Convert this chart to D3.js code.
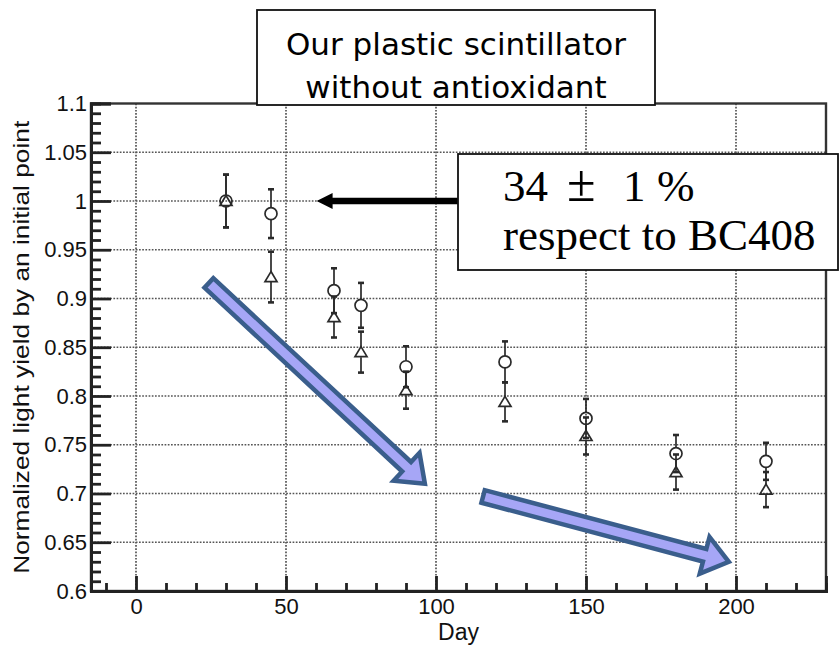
<!DOCTYPE html>
<html>
<head>
<meta charset="utf-8">
<script src="https://cdn.jsdelivr.net/npm/d3@7"></script>
<style>
  body { margin: 0; background: #fff; }
  svg { display: block; }
</style>
</head>
<body>
<div id="main"></div>
<script>
/* size */
const width = 840, height = 651;
const plotLeft = 91, plotRight = 826, plotTop = 103.5, plotBottom = 591;

/* data */
const days = [30, 45, 66, 75, 90, 123, 150, 180, 210];
const circleVals = [1.0, 0.987, 0.908, 0.893, 0.830, 0.835, 0.777, 0.741, 0.733];
const circleErrs = [0.027, 0.025, 0.023, 0.023, 0.021, 0.021, 0.020, 0.019, 0.019];
const triVals = [1.0, 0.922, 0.881, 0.845, 0.806, 0.794, 0.759, 0.722, 0.704];
const triErrs = [0.027, 0.026, 0.021, 0.021, 0.019, 0.020, 0.019, 0.018, 0.018];

const xTicks = [0, 50, 100, 150, 200];
const xMinor = [-10, 10, 20, 30, 40, 60, 70, 80, 90, 110, 120, 130, 140, 160, 170, 180, 190, 210, 220];
const yTicks = [0.6, 0.65, 0.7, 0.75, 0.8, 0.85, 0.9, 0.95, 1, 1.05, 1.1];
const yTickLabels = ["0.6", "0.65", "0.7", "0.75", "0.8", "0.85", "0.9", "0.95", "1", "1.05", "1.1"];
const yMinor = d3.range(60, 111).filter(v => v % 5 !== 0).map(v => v / 100);

/* annotation arrows, in data units [day, yield] */
const trendArrows = [
  {from: [24.3, 0.916], to: [96.3, 0.710]},
  {from: [115.7, 0.697], to: [197.6, 0.630]}
];
const pointerArrow = {from: [107.3, 1.0], to: [60.2, 1.0]};

const x = d3.scaleLinear().domain([-15, 230]).range([plotLeft, plotRight]);
const y = d3.scaleLinear().domain([0.6, 1.1]).range([plotBottom, plotTop]);

const svg = d3.select("#main").append("svg").attr("width", width).attr("height", height);

/* grid */
const grid = svg.append("g").attr("stroke", "#555").attr("stroke-width", 1.7).attr("stroke-dasharray", "1.7,1.5");
grid.selectAll("line.gx").data(xTicks).join("line")
  .attr("class", "gx")
  .attr("x1", d => x(d)).attr("x2", d => x(d)).attr("y1", plotTop).attr("y2", plotBottom);
grid.selectAll("line.gy").data(yTicks.slice(1, -1)).join("line")
  .attr("class", "gy")
  .attr("x1", plotLeft).attr("x2", plotRight).attr("y1", d => y(d)).attr("y2", d => y(d));

/* frame */
svg.append("rect").attr("x", plotLeft).attr("y", plotTop)
  .attr("width", plotRight - plotLeft).attr("height", plotBottom - plotTop)
  .attr("fill", "none").attr("stroke", "#333").attr("stroke-width", 2.4);

/* axes */
svg.append("g").attr("transform", `translate(${plotLeft},0)`)
  .call(d3.axisLeft(y).tickValues(yTicks).tickSize(-20).tickPadding(4)
    .tickFormat((d, i) => yTickLabels[i]));
svg.append("g").attr("transform", `translate(${plotLeft},0)`)
  .call(d3.axisLeft(y).tickValues(yMinor).tickSize(-10).tickFormat(""));
svg.append("g").attr("transform", `translate(0,${plotBottom})`)
  .call(d3.axisBottom(x).tickValues(xTicks).tickSize(-15).tickPadding(7));
svg.append("g").attr("transform", `translate(0,${plotBottom})`)
  .call(d3.axisBottom(x).tickValues(xMinor).tickSize(-8).tickFormat(""));

svg.selectAll(".domain").attr("stroke", "#222").attr("stroke-width", 2.8);
svg.selectAll(".tick line").attr("stroke", "#222").attr("stroke-width", 2.8);
svg.selectAll(".tick text").attr("font-family", "'Liberation Sans', Arial, sans-serif")
  .attr("font-size", 22).attr("fill", "#111");

/* axis titles */
svg.append("text").attr("x", (plotLeft + plotRight) / 2).attr("y", 640)
  .attr("text-anchor", "middle").attr("font-family", "'Liberation Sans', Arial, sans-serif")
  .attr("font-size", 23).attr("fill", "#111").text("Day");
svg.append("text").attr("transform", `translate(29,${(plotTop + plotBottom) / 2}) rotate(-90)`)
  .attr("text-anchor", "middle").attr("font-family", "'Liberation Sans', Arial, sans-serif")
  .attr("font-size", 22).attr("fill", "#111")
  .attr("textLength", 453).attr("lengthAdjust", "spacingAndGlyphs")
  .text("Normalized light yield by an initial point");

/* points with error bars */
const pts = svg.append("g").attr("stroke", "#2a2a2a").attr("stroke-width", 1.7).attr("fill", "none");

function drawSeries(vals, errs, gap, marker) {
  const g = pts.append("g");
  days.forEach((d, i) => {
    const cx = x(d), cy = y(vals[i]);
    const yt = y(vals[i] + errs[i]), yb = y(vals[i] - errs[i]);
    g.append("line").attr("x1", cx).attr("x2", cx).attr("y1", yt).attr("y2", cy - gap);
    g.append("line").attr("x1", cx).attr("x2", cx).attr("y1", cy + gap).attr("y2", yb);
    g.append("line").attr("x1", cx - 3).attr("x2", cx + 3).attr("y1", yt).attr("y2", yt).attr("stroke-width", 2.6);
    g.append("line").attr("x1", cx - 3).attr("x2", cx + 3).attr("y1", yb).attr("y2", yb).attr("stroke-width", 2.6);
    marker(g, cx, cy);
  });
}
drawSeries(circleVals, circleErrs, 6, (g, cx, cy) =>
  g.append("circle").attr("cx", cx).attr("cy", cy).attr("r", 6));
drawSeries(triVals, triErrs, 5, (g, cx, cy) =>
  g.append("path").attr("d", `M${cx},${cy - 5.5}L${cx + 6},${cy + 4.5}L${cx - 6},${cy + 4.5}Z`));

/* block arrows */
function blockArrow(p0, p1, hw, hhw, hl) {
  const dx = p1[0] - p0[0], dy = p1[1] - p0[1];
  const len = Math.hypot(dx, dy), ux = dx / len, uy = dy / len, nx = -uy, ny = ux;
  const bx = p1[0] - ux * hl, by = p1[1] - uy * hl;
  const pt = (px, py, s) => [px + nx * s, py + ny * s];
  const poly = [pt(p0[0], p0[1], hw), pt(bx, by, hw), pt(bx, by, hhw), p1,
    pt(bx, by, -hhw), pt(bx, by, -hw), pt(p0[0], p0[1], -hw)];
  return "M" + poly.map(p => p.join(",")).join("L") + "Z";
}
svg.selectAll("path.trend").data(trendArrows).join("path")
  .attr("class", "trend")
  .attr("d", d => blockArrow([x(d.from[0]), y(d.from[1])], [x(d.to[0]), y(d.to[1])], 6.5, 19, 25))
  .attr("fill", "#a6a6f6").attr("stroke", "#3a5e8c").attr("stroke-width", 4.5)
  .attr("stroke-linejoin", "miter");

/* black pointer arrow */
svg.append("path")
  .attr("d", blockArrow([x(pointerArrow.from[0]), y(pointerArrow.from[1])],
    [x(pointerArrow.to[0]), y(pointerArrow.to[1])], 3.2, 8, 16))
  .attr("fill", "#000");

/* title box */
svg.append("rect").attr("x", 257).attr("y", 10).attr("width", 398).attr("height", 95)
  .attr("fill", "#fff").attr("stroke", "#111").attr("stroke-width", 1.8);
const tb = svg.append("text").attr("text-anchor", "middle").attr("font-family", "'DejaVu Sans', sans-serif")
  .attr("font-size", 31).attr("fill", "#000");
tb.append("tspan").attr("x", 456).attr("y", 55).text("Our plastic scintillator");
tb.append("tspan").attr("x", 456).attr("y", 98).text("without antioxidant");

/* result box */
svg.append("rect").attr("x", 458).attr("y", 154).attr("width", 380).attr("height", 116)
  .attr("fill", "#fff").attr("stroke", "#111").attr("stroke-width", 1.8);
const rb = svg.append("text").attr("font-family", "'Liberation Serif', 'Times New Roman', serif")
  .attr("font-size", 45).attr("fill", "#000");
rb.append("tspan").attr("x", 503).attr("y", 201).text("34");
rb.append("tspan").attr("x", 567).attr("y", 201).attr("font-size", 52).text("±");
rb.append("tspan").attr("x", 623).attr("y", 201).text("1");
rb.append("tspan").attr("x", 657).attr("y", 201).text("%");
svg.append("text").attr("x", 503).attr("y", 250)
  .attr("font-family", "'Liberation Serif', 'Times New Roman', serif")
  .attr("font-size", 45).attr("fill", "#000").text("respect to BC408");
</script>
</body>
</html>
